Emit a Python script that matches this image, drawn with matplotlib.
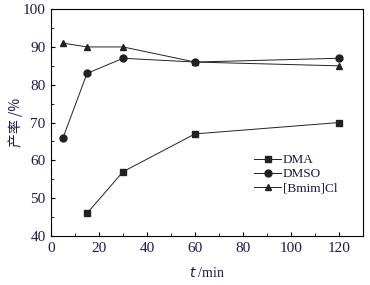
import matplotlib
matplotlib.use('Agg')
import matplotlib.pyplot as plt
from matplotlib.ticker import MultipleLocator

plt.rcParams['font.family'] = ['Liberation Serif', 'Noto Sans CJK SC']
navy = '#1c1c4c'

dma_t = [15, 30, 60, 120]
dma_y = [46, 57, 67, 70]
dmso_t = [5, 15, 30, 60, 120]
dmso_y = [66, 83, 87, 86, 87]
bmim_t = [5, 15, 30, 60, 120]
bmim_y = [91, 90, 90, 86, 85]

fig = plt.figure(figsize=(3.7, 2.85), dpi=100)
ax = fig.add_axes([0.138, 0.172, 0.843, 0.796])

kw = dict(color='#222222', lw=0.7, markersize=5)
ax.plot(dma_t, dma_y, marker='s', label='DMA', **kw)
ax.plot(dmso_t, dmso_y, marker='o', label='DMSO', **kw)
ax.plot(bmim_t, bmim_y, marker='^', label='[Bmim]Cl', **kw)

ax.set_xlim(0, 130)
ax.set_ylim(40, 100)
ax.xaxis.set_major_locator(MultipleLocator(20))
ax.xaxis.set_minor_locator(MultipleLocator(10))
ax.yaxis.set_major_locator(MultipleLocator(10))
ax.yaxis.set_minor_locator(MultipleLocator(5))
ax.tick_params(which='both', direction='in', labelsize=11, labelcolor=navy, top=False, right=False)
ax.tick_params(which='major', length=3, pad=4)
ax.tick_params(which='minor', length=2)
for s in ax.spines.values():
    s.set_linewidth(0.8)

ax.set_xlabel(r'$t$ /min', fontsize=10, color=navy, labelpad=8)
ax.set_ylabel('产率 /%', fontsize=10, color=navy, family=['Noto Sans CJK SC'], labelpad=0)

ax.legend(loc='upper left', bbox_to_anchor=(0.635, 0.385), frameon=False, fontsize=9.5,
          handlelength=2.0, labelspacing=0.15, handletextpad=0.15, labelcolor=navy,
          borderaxespad=0)

fig.savefig('out.png', dpi=100)
